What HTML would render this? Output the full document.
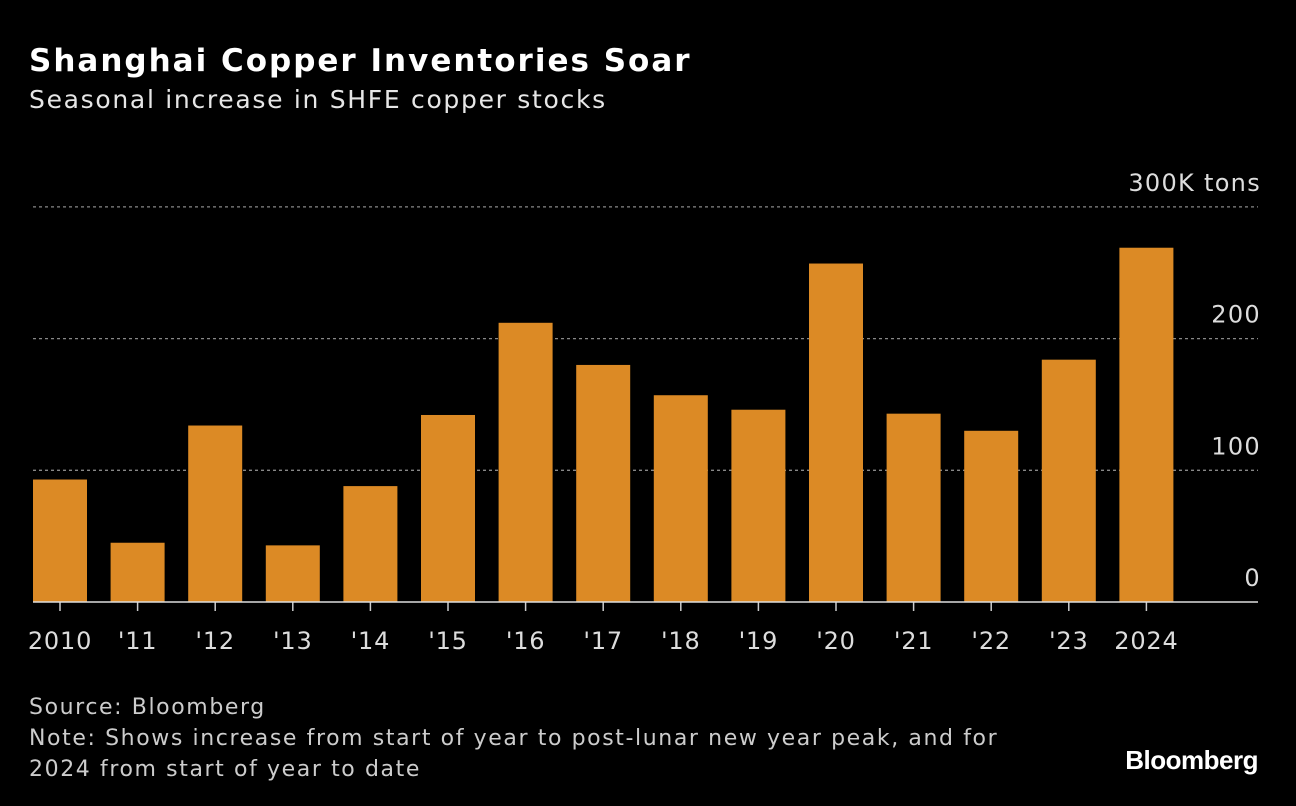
<!DOCTYPE html>
<html><head><meta charset="utf-8"><style>
body{margin:0;background:#000;width:1296px;height:806px;overflow:hidden;font-family:"DejaVu Sans",sans-serif;color:#fff}
.t{position:absolute;white-space:nowrap}
</style></head><body>
<div class="t" style="left:29px;top:43px;font-size:31px;font-weight:bold;letter-spacing:2px">Shanghai Copper Inventories Soar</div>
<div class="t" style="left:29px;top:85px;font-size:25px;color:#e6e6e6;letter-spacing:1.7px">Seasonal increase in SHFE copper stocks</div>
<svg id="c" width="1296" height="806" style="position:absolute;left:0;top:0;font-family:'DejaVu Sans',sans-serif"></svg>
<div class="t" style="left:29px;top:692px;font-size:22px;color:#ccc;line-height:31px;letter-spacing:1.6px">Source: Bloomberg<br>Note: Shows increase from start of year to post-lunar new year peak, and for<br>2024 from start of year to date</div>
<div class="t" style="right:38px;top:745px;font-size:26px;font-weight:bold;letter-spacing:-0.5px;font-family:'Liberation Sans',sans-serif">Bloomberg</div>
<script>
const categories=["2010","'11","'12","'13","'14","'15","'16","'17","'18","'19","'20","'21","'22","'23","2024"];
const values=[93,45,134,43,88,142,212,180,157,146,257,143,130,184,269];
const ticks=[0,100,200,300];
const tickLabels=["0","100","200","300K tons"];
const svg=document.getElementById('c');
const NS='http://www.w3.org/2000/svg';
const x0=33,x1=1258,y0=602,pxPer=1.317,step=77.6,bw=54,first=60;
const y=v=>y0-v*pxPer;
const xc=i=>first+i*step;
function mk(t,a){const e=document.createElementNS(NS,t);for(const k in a)e.setAttribute(k,a[k]);svg.appendChild(e);return e;}
ticks.forEach((v,i)=>{
 if(v>0){const l=mk('line',{x1:x0,x2:x1,y1:y(v),y2:y(v),stroke:'#888','stroke-width':1.3,'stroke-dasharray':'3,3'});
 
 }
 const t=mk('text',{x:1261,y:y(v)-16,'text-anchor':'end',fill:'#ddd','font-size':24,'letter-spacing':1.3});
 t.textContent=tickLabels[i];
 
 
});
values.forEach((v,i)=>{
 const r=mk('rect',{x:xc(i)-bw/2,y:y(v),width:bw,height:v*pxPer,fill:'#dc8a25'});
 
 
 const tk=mk('line',{x1:xc(i),x2:xc(i),y1:y0,y2:y0+9,stroke:'#ccc','stroke-width':1.5});
 
 
 const t=mk('text',{x:xc(i),y:649,'text-anchor':'middle',fill:'#ddd','font-size':24,'letter-spacing':0.8});
 t.textContent=categories[i];
 
 
});
const b=mk('line',{x1:x0,x2:x1,y1:y0,y2:y0,stroke:'#ddd','stroke-width':1.5});


</script>
</body></html>
